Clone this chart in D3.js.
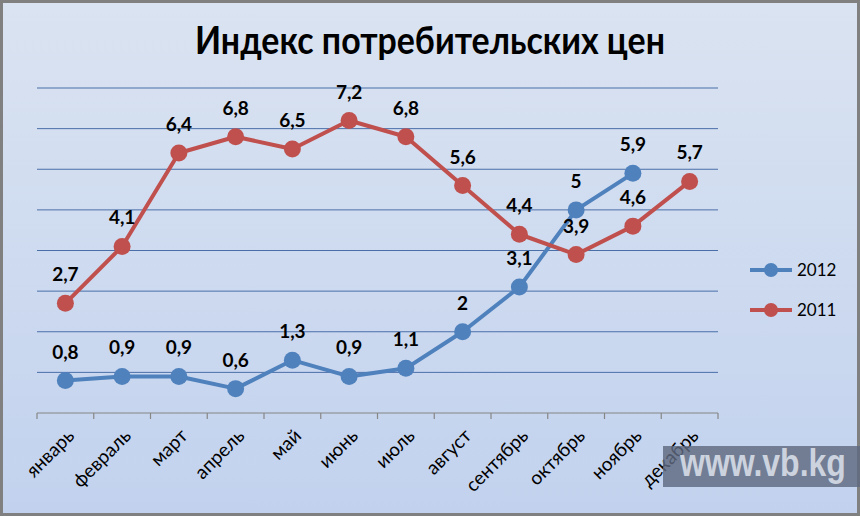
<!DOCTYPE html>
<html>
<head>
<meta charset="utf-8">
<script src="https://cdnjs.cloudflare.com/ajax/libs/d3/7.8.5/d3.min.js"></script>
<style>
  body { margin: 0; }
  svg { display: block; }
</style>
</head>
<body>
<script>
const months = ["январь", "февраль", "март", "апрель", "май", "июнь", "июль", "август", "сентябрь", "октябрь", "ноябрь", "декабрь"];
const values2012 = [0.8, 0.9, 0.9, 0.6, 1.3, 0.9, 1.1, 2, 3.1, 5, 5.9];
const values2011 = [2.7, 4.1, 6.4, 6.8, 6.5, 7.2, 6.8, 5.6, 4.4, 3.9, 4.6, 5.7];
const yTicks = [1, 2, 3, 4, 5, 6, 7, 8];

const series = [
  { name: "2012", color: "#4f81bd", values: values2012 },
  { name: "2011", color: "#c0504d", values: values2011 }
];

const W = 860, H = 516;
const font = "Lato, 'Open Sans', sans-serif";

const svg = d3.select("body").append("svg").attr("width", W).attr("height", H);

const grad = svg.append("defs").append("linearGradient")
    .attr("id", "bg").attr("x1", 0).attr("y1", 0).attr("x2", 0).attr("y2", 1);
grad.append("stop").attr("offset", "0%").attr("stop-color", "#dae3f1");
grad.append("stop").attr("offset", "100%").attr("stop-color", "#c2d2ee");

svg.append("rect").attr("width", W).attr("height", H).attr("fill", "#808080");
svg.append("rect").attr("x", 3).attr("y", 3).attr("width", W - 6).attr("height", H - 6)
    .attr("fill", "url(#bg)");

// title
svg.append("text")
    .attr("x", 430).attr("y", 54)
    .attr("text-anchor", "middle")
    .attr("textLength", 470).attr("lengthAdjust", "spacingAndGlyphs")
    .style("font-family", font).style("font-weight", "bold").style("font-size", "39px")
    .text("Индекс потребительских цен");

const x = d3.scaleBand().domain(months).range([37, 718]);
const y = d3.scaleLinear().domain([0, 8]).range([413, 88]);

// gridlines
svg.append("g").selectAll("line").data(yTicks).enter().append("line")
    .attr("x1", 37).attr("x2", 718)
    .attr("y1", d => y(d)).attr("y2", d => y(d))
    .attr("stroke", "#4a6fa8").attr("stroke-width", 1);

// x axis
const xAxis = svg.append("g").attr("transform", "translate(0," + y(0) + ")");
xAxis.append("line").attr("x1", 37).attr("x2", 718).attr("stroke", "#868686").attr("stroke-width", 1.2);
xAxis.selectAll("line.tick").data(months.concat([null])).enter().append("line")
    .attr("class", "tick")
    .attr("x1", (d, i) => 37 + i * x.step()).attr("x2", (d, i) => 37 + i * x.step())
    .attr("y1", 0).attr("y2", 6)
    .attr("stroke", "#868686").attr("stroke-width", 1.2);
xAxis.selectAll("text").data(months).enter().append("text")
    .attr("text-anchor", "end")
    .attr("transform", d => "translate(" + (x(d) + x.bandwidth() / 2 + 10) + ",24)rotate(-45)")
    .style("font-family", font).style("font-size", "19px").attr("fill", "#000")
    .text(d => d);

const line = d3.line()
    .x((d, i) => x(months[i]) + x.bandwidth() / 2)
    .y(d => y(d));

series.forEach(s => {
  const g = svg.append("g");
  g.append("path").datum(s.values)
      .attr("d", line).attr("fill", "none")
      .attr("stroke", s.color).attr("stroke-width", 4).attr("stroke-linejoin", "round");
  g.selectAll("circle").data(s.values).enter().append("circle")
      .attr("cx", (d, i) => x(months[i]) + x.bandwidth() / 2)
      .attr("cy", d => y(d))
      .attr("r", 8.5)
      .attr("fill", s.color);
  g.selectAll("text").data(s.values).enter().append("text")
      .attr("x", (d, i) => x(months[i]) + x.bandwidth() / 2)
      .attr("y", d => y(d) - 22)
      .attr("text-anchor", "middle")
      .style("font-family", font).style("font-weight", "bold").style("font-size", "19px")
      .text(d => String(d).replace(".", ","));
});

// legend
const legend = svg.append("g");
series.forEach((s, i) => {
  const ly = 270 + i * 40;
  legend.append("line").attr("x1", 750).attr("x2", 792).attr("y1", ly).attr("y2", ly)
      .attr("stroke", s.color).attr("stroke-width", 4);
  legend.append("circle").attr("cx", 771).attr("cy", ly).attr("r", 7).attr("fill", s.color);
  legend.append("text").attr("x", 797).attr("y", ly + 6)
      .style("font-family", font).style("font-size", "17px")
      .text(s.name);
});

// watermark (semi-transparent, the month label shows through)
svg.append("rect").attr("x", 663).attr("y", 446).attr("width", 197).attr("height", 41)
    .attr("fill", "#5f6a80").attr("opacity", 0.82);
svg.append("text")
    .attr("transform", "translate(680,476) scale(1,1.2)")
    .style("font-family", "'Liberation Sans', Arial, sans-serif").style("font-weight", "bold")
    .style("font-size", "32px").attr("fill", "#ccd3de")
    .text("www.vb.kg");
</script>
</body>
</html>
